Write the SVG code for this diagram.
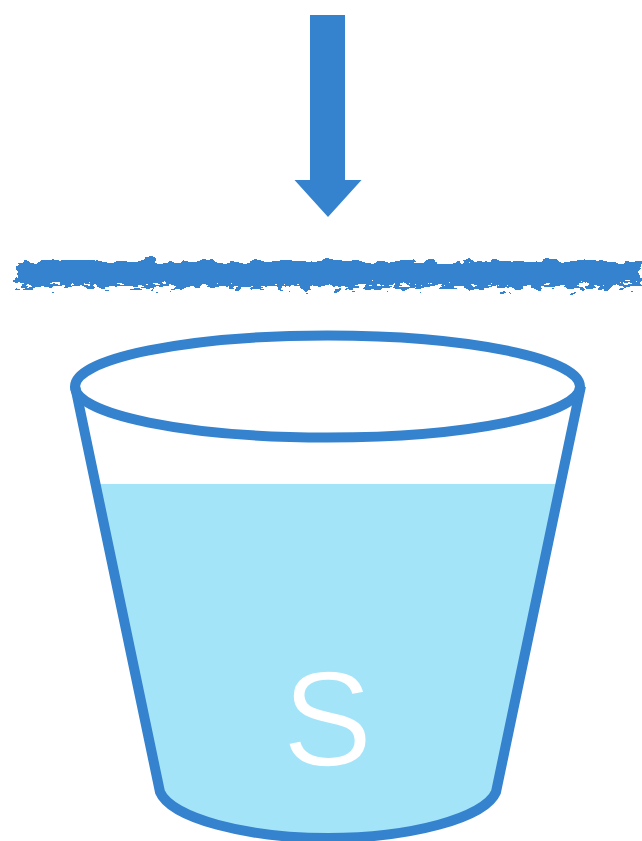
<svg xmlns="http://www.w3.org/2000/svg" width="642" height="841" viewBox="0 0 642 841">
<defs>
<filter id="rough" x="-2%" y="-100%" width="104%" height="300%" color-interpolation-filters="sRGB">
<feTurbulence type="fractalNoise" baseFrequency="0.05 0.1" numOctaves="3" seed="11" result="n"/>
<feDisplacementMap in="SourceGraphic" in2="n" scale="13" xChannelSelector="R" yChannelSelector="G"/>
</filter>
<filter id="speckle" x="-2%" y="-150%" width="104%" height="400%" color-interpolation-filters="sRGB">
<feTurbulence type="fractalNoise" baseFrequency="0.09 0.22" numOctaves="3" seed="4" result="n"/>
<feDisplacementMap in="SourceGraphic" in2="n" scale="24" xChannelSelector="R" yChannelSelector="G"/>
</filter>
</defs>
<style>
.blue{fill:#3583ce}
.line{fill:none;stroke:#3583ce;stroke-width:10;stroke-linejoin:round}
.water{fill:#a3e4f9}
.label{font-family:"Liberation Sans",Arial,sans-serif;font-size:135px;fill:#fff;stroke:#a3e4f9;stroke-width:1.500px;text-anchor:middle}
</style>
<g id="connectors">
<polygon id="arrow" class="blue" points="310,15 345,15 345,180 361.500,180 328,217 294.500,180 310,180"/>
</g>
<g id="filter-band">
<rect class="blue" x="17" y="279" width="623" height="8" filter="url(#speckle)"/>
<rect class="blue" x="17" y="261" width="623" height="22" filter="url(#rough)"/>
</g>
<g id="bucket">
<path class="water" d="M96.500 484H559.500L496 792C485 818 410 837 328 837C246 837 171 818 160 792Z"/>
<path class="line" d="M75 386L160 792C171 818 246 838 328 838C410 838 485 818 496 792L581 386"/>
<ellipse class="line" cx="327.500" cy="386.500" rx="252.500" ry="51"/>
<text class="label" x="327.500" y="765.500">S</text>
</g>
</svg>
